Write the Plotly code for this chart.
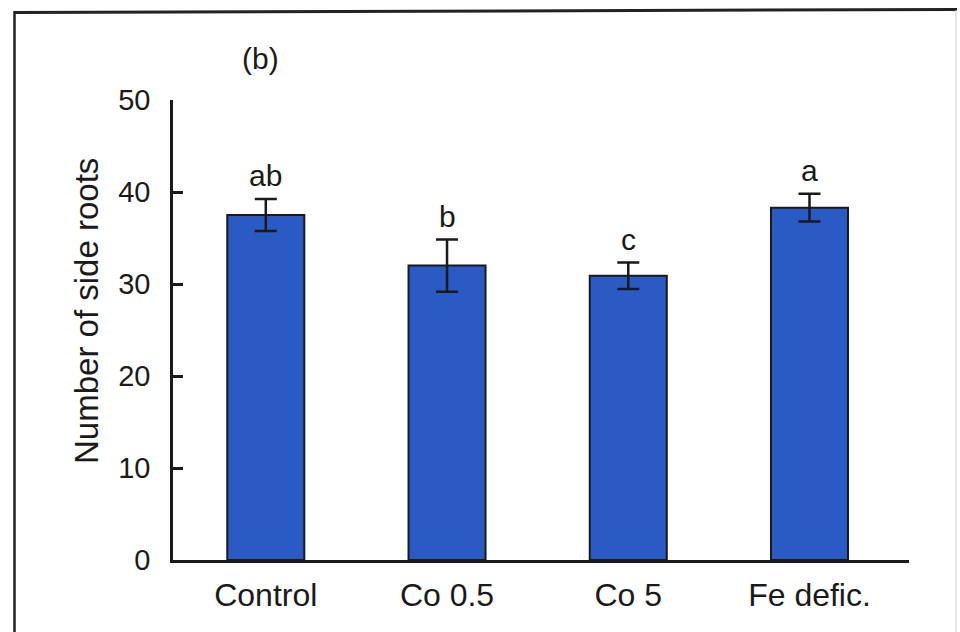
import plotly.graph_objects as go

# Side-root counts per treatment (mean ± SE) and significance letters
treatments = ["Control", "Co 0.5", "Co 5", "Fe defic."]
side_roots = [37.5, 32.0, 30.9, 38.3]
side_roots_err = [1.75, 2.85, 1.45, 1.5]
sig_letters = ["ab", "b", "c", "a"]
y_ticks = [0, 10, 20, 30, 40, 50]

FONT = "Liberation Sans, Arial, Helvetica, sans-serif"
INK = "#1a1a1a"
BAR_BLUE = "#2a5ac4"

W, H = 960, 632
ML, MR, MT, MB = 173, 51, 100, 72
PW, PH = W - ML - MR, H - MT - MB


def px_x(px):
    return (px - ML) / PW


def px_y(py):
    return (H - MB - py) / PH


fig = go.Figure()
fig.add_trace(go.Bar(
    x=treatments,
    y=side_roots,
    width=0.425,
    marker=dict(color=BAR_BLUE, line=dict(color=INK, width=2)),
    error_y=dict(type="data", array=side_roots_err, visible=True,
                 color=INK, thickness=2.5, width=11),
    showlegend=False,
    hoverinfo="skip",
))

# significance letters above each error bar
for cat, m, e, lab in zip(treatments, side_roots, side_roots_err, sig_letters):
    fig.add_annotation(x=cat, y=m + e, text=lab, showarrow=False,
                       yanchor="middle", yshift=23,
                       font=dict(family=FONT, size=30, color=INK))

# panel label
fig.add_annotation(xref="paper", yref="paper", x=px_x(260), y=px_y(59),
                   text="(b)", showarrow=False, xanchor="center", yanchor="middle",
                   font=dict(family=FONT, size=30, color=INK))

# y-axis title
fig.add_annotation(xref="paper", yref="paper", x=px_x(86), y=px_y(311),
                   text="Number of side roots", textangle=-90, showarrow=False,
                   xanchor="center", yanchor="middle",
                   font=dict(family=FONT, size=33, color=INK))

# outer frame around the panel
fig.add_shape(type="line", xref="paper", yref="paper",
              x0=px_x(14.5), y0=px_y(12.5), x1=px_x(957), y1=px_y(9.5),
              line=dict(color="#222222", width=3))
fig.add_shape(type="line", xref="paper", yref="paper",
              x0=px_x(14.5), y0=px_y(11), x1=px_x(14.5), y1=px_y(640),
              line=dict(color="#222222", width=2.5))
fig.add_shape(type="line", xref="paper", yref="paper",
              x0=px_x(956), y0=px_y(10), x1=px_x(956), y1=px_y(640),
              line=dict(color="#cfcfcf", width=1))

fig.update_layout(
    width=W, height=H,
    margin=dict(l=ML, r=MR, t=MT, b=MB, pad=0),
    paper_bgcolor="white", plot_bgcolor="white",
    font=dict(family=FONT, color=INK),
    bargap=0.5,
)
fig.update_xaxes(
    type="category", range=[-0.512, 3.549],
    showline=True, linecolor=INK, linewidth=2.5,
    ticks="", showgrid=False, zeroline=False,
    tickfont=dict(family=FONT, size=32, color=INK),
    ticklabelstandoff=5,
)
fig.update_yaxes(
    range=[0, 50], tickvals=y_ticks,
    showline=True, linecolor=INK, linewidth=2.5,
    ticks="inside", ticklen=10, tickwidth=2.5, tickcolor=INK,
    showgrid=False, zeroline=False,
    tickfont=dict(family=FONT, size=29, color=INK),
    ticklabelstandoff=14,
)

fig.write_html("out.html")
